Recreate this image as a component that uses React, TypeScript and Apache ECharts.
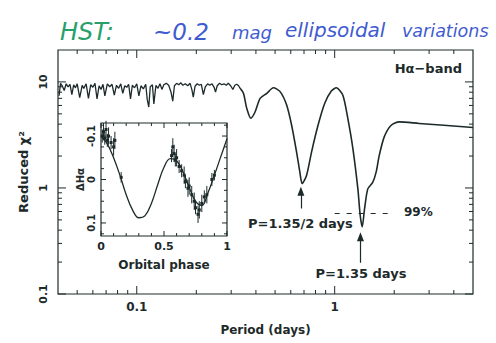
import React, { useEffect, useRef } from 'react';
import * as echarts from 'echarts';

const INK = '#1d2a2a';
const FONT = '"DejaVu Sans", sans-serif';

// ---- Main periodogram: period (days) vs reduced chi^2 ----
const noisyPeriods = [
  0.0405, 0.0412, 0.042, 0.043, 0.044, 0.045, 0.046, 0.047, 0.048, 0.049,
  0.05, 0.0515, 0.053, 0.054, 0.0555, 0.057, 0.0585, 0.06, 0.0615, 0.063,
  0.0645, 0.066, 0.0675, 0.069, 0.071, 0.073, 0.075, 0.077, 0.079, 0.081,
  0.083, 0.085, 0.087, 0.089, 0.091, 0.093, 0.095, 0.0975, 0.1, 0.1025,
  0.105, 0.108, 0.111, 0.113, 0.115, 0.117, 0.12, 0.122, 0.125, 0.128,
  0.131, 0.134, 0.137, 0.141, 0.145, 0.149, 0.152, 0.155, 0.159, 0.163,
  0.167, 0.171, 0.176, 0.181, 0.186, 0.19, 0.193, 0.197, 0.202, 0.207,
  0.212, 0.217, 0.222, 0.228, 0.234, 0.24, 0.246, 0.25, 0.255, 0.262,
  0.269, 0.276, 0.283, 0.29, 0.298, 0.306, 0.313, 0.32, 0.327, 0.333,
];
const noisyChi2 = [
  7.4, 9.7, 9.2, 8.3, 9.6, 9.0, 9.5, 7.6, 9.4, 8.8,
  9.6, 7.1, 9.3, 8.7, 9.6, 7.0, 9.4, 8.9, 9.7, 6.9,
  9.2, 8.5, 9.5, 7.4, 9.6, 9.0, 9.5, 7.5, 9.3, 8.7,
  9.6, 7.8, 9.2, 8.9, 9.5, 6.9, 9.3, 8.8, 9.6, 7.4,
  9.2, 8.6, 9.5, 6.8, 5.8, 9.0, 9.4, 6.2, 9.3, 8.7,
  9.6, 8.5, 9.4, 9.7, 9.3, 8.0, 6.6, 9.2, 9.7, 9.4,
  9.8, 9.3, 9.6, 9.2, 9.7, 8.4, 7.2, 9.1, 9.6, 9.3,
  9.5, 7.6, 9.0, 9.6, 9.3, 9.6, 8.9, 8.0, 9.2, 9.7,
  9.4, 9.6, 9.3, 9.7, 9.2, 8.5, 9.3, 9.5, 9.2, 8.7,
];
const smoothPeriods = [
  0.333, 0.346, 0.36, 0.377, 0.396, 0.42, 0.454, 0.49, 0.53, 0.572,
  0.606, 0.642, 0.667, 0.685, 0.721, 0.764, 0.824, 0.891, 0.962, 1.02,
  1.1, 1.166, 1.236, 1.31, 1.346, 1.378, 1.415, 1.47, 1.557, 1.62,
  1.68, 1.78, 1.93, 2.12, 2.67, 5.0,
];
const smoothChi2 = [
  8.7, 7.8, 5.6, 4.55, 5.2, 7.0, 7.8, 8.8, 8.1, 6.05,
  3.9, 2.18, 1.41, 1.1, 1.31, 2.18, 3.9, 6.3, 8.2, 8.8,
  7.5, 4.5, 2.35, 0.98, 0.55, 0.43, 0.63, 0.98, 1.13, 1.41,
  2.03, 3.03, 3.9, 4.2, 4.06, 3.72,
];

// annotations (data coordinates)
const level99 = 0.58;
const level99Span = [1.0, 2.0];
const halfPeriod = 1.35 / 2;
const fullPeriod = 1.35;
const arrowHalf = [0.64, 0.93];
const arrowFull = [0.197, 0.347];

// axis ticks
const xRange = [0.04, 5];
const yRange = [0.1, 20];
const xMajor = [0.1, 1];
const xMinor = [0.05, 0.06, 0.07, 0.08, 0.09, 0.2, 0.3, 0.4, 0.5, 0.6, 0.7, 0.8, 0.9, 2, 3, 4];
const yMajor = [0.1, 1, 10];
const yMinor = [0.2, 0.3, 0.4, 0.5, 0.6, 0.7, 0.8, 0.9, 2, 3, 4, 5, 6, 7, 8, 9];

// ---- Inset: light curve vs orbital phase ----
const curvePhase = [0, 0.05, 0.1, 0.15, 0.2, 0.25, 0.3, 0.35, 0.4, 0.45, 0.5, 0.55, 0.6, 0.65, 0.7, 0.75, 0.8, 0.85, 0.9, 0.95, 1.0];
const curveDelta = [-0.1, -0.082, -0.05, -0.01, 0.035, 0.07, 0.088, 0.083, 0.055, 0.012, -0.028, -0.048, -0.043, -0.018, 0.018, 0.05, 0.06, 0.03, -0.01, -0.052, -0.094];
const obsPhase = [0.01, 0.02, 0.03, 0.04, 0.05, 0.06, 0.08, 0.1, 0.11, 0.16, 0.56, 0.57, 0.58, 0.59, 0.6, 0.62, 0.64, 0.66, 0.67, 0.69, 0.7, 0.72, 0.74, 0.75, 0.77, 0.78, 0.8, 0.82, 0.84, 0.88, 0.9];
const obsDelta = [-0.1, -0.11, -0.095, -0.115, -0.09, -0.1, -0.085, -0.075, -0.09, -0.005, -0.055, -0.075, -0.06, -0.045, -0.05, -0.03, -0.02, -0.01, 0.005, 0.02, 0.015, 0.035, 0.05, 0.065, 0.08, 0.07, 0.055, 0.04, 0.035, 0.0, -0.01];
const obsErr = [0.015, 0.02, 0.015, 0.02, 0.015, 0.02, 0.015, 0.02, 0.02, 0.012, 0.015, 0.02, 0.02, 0.015, 0.02, 0.015, 0.015, 0.02, 0.015, 0.02, 0.02, 0.02, 0.02, 0.015, 0.02, 0.02, 0.02, 0.015, 0.02, 0.015, 0.012];
const insetXRange = [0, 1];
const insetYRange = [-0.13, 0.13];
const insetXMajor = [0, 0.5, 1];
const insetXMinor = [0.1, 0.2, 0.3, 0.4, 0.6, 0.7, 0.8, 0.9];
const insetYMajor = [-0.1, 0, 0.1];
const insetYMinor = [-0.125, -0.075, -0.05, -0.025, 0.025, 0.05, 0.075, 0.125];

const handWords = ['~0.2', 'mag', 'ellipsoidal', 'variations'];

function tickSeries(xIdx: number, yIdx: number, xr: number[], yr: number[], xMaj: number[], xMin: number[], yMaj: number[], yMin: number[], maj: number, min: number) {
  const data: number[][] = [];
  xMaj.forEach((v) => data.push([v, yr[0], 0, maj]));
  xMin.forEach((v) => data.push([v, yr[0], 0, min]));
  yMaj.forEach((v) => data.push([xr[0], v, 1, maj]));
  yMin.forEach((v) => data.push([xr[0], v, 1, min]));
  const style = { stroke: INK, lineWidth: 1 };
  return {
    type: 'custom',
    xAxisIndex: xIdx,
    yAxisIndex: yIdx,
    clip: false,
    silent: true,
    z: 6,
    data,
    renderItem: (_p: any, api: any) => {
      const kind = api.value(2);
      const len = api.value(3);
      if (kind === 0) {
        const v = api.value(0);
        const a = api.coord([v, yr[0]]);
        const b = api.coord([v, yr[1]]);
        const yb = Math.max(a[1], b[1]);
        const yt = Math.min(a[1], b[1]);
        return {
          type: 'group',
          children: [
            { type: 'line', shape: { x1: a[0], y1: yb, x2: a[0], y2: yb - len }, style },
            { type: 'line', shape: { x1: a[0], y1: yt, x2: a[0], y2: yt + len }, style },
          ],
        };
      }
      const v = api.value(1);
      const a = api.coord([xr[0], v]);
      const b = api.coord([xr[1], v]);
      const xl = Math.min(a[0], b[0]);
      const xrr = Math.max(a[0], b[0]);
      return {
        type: 'group',
        children: [
          { type: 'line', shape: { x1: xl, y1: a[1], x2: xl + len, y2: a[1] }, style },
          { type: 'line', shape: { x1: xrr, y1: a[1], x2: xrr - len, y2: a[1] }, style },
        ],
      };
    },
  };
}

const logLabel = (v: number) => {
  const e = Math.log10(v);
  const r = Math.round(e);
  if (Math.abs(e - r) > 1e-6) return '';
  return r >= 0 ? String(Math.pow(10, r)) : Math.pow(10, r).toFixed(-r);
};

const labelStyle = { color: INK, fontFamily: FONT, fontWeight: 'bold' as const };
const handStyle = { fill: '#3f5bd0', fontFamily: FONT, fontStyle: 'italic', fontWeight: 'normal', verticalAlign: 'middle' };

export default function App() {
  const ref = useRef<HTMLDivElement>(null);
  useEffect(() => {
    if (!ref.current) return;
    const chart = echarts.init(ref.current, undefined, { renderer: 'svg' });
    const option: any = {
      animation: false,
      backgroundColor: '#ffffff',
      grid: [
        { left: 58, right: 23, top: 50, bottom: 49, show: true, borderColor: INK, borderWidth: 1.2, backgroundColor: 'transparent', outerBoundsMode: 'none' },
        { left: 101, top: 123, width: 126, height: 113, show: true, borderColor: INK, borderWidth: 1.2, backgroundColor: '#ffffff', outerBoundsMode: 'none', z: 4 },
      ],
      xAxis: [
        {
          type: 'log', logBase: 10, gridIndex: 0, min: xRange[0], max: xRange[1],
          axisLine: { show: false }, axisTick: { show: false }, splitLine: { show: false },
          axisLabel: { ...labelStyle, fontSize: 12, margin: 7, formatter: logLabel, showMinLabel: true, showMaxLabel: true },
          name: 'Period (days)', nameLocation: 'middle', nameGap: 30,
          nameTextStyle: { ...labelStyle, fontSize: 12 },
        },
        {
          type: 'value', gridIndex: 1, min: insetXRange[0], max: insetXRange[1], interval: 0.5,
          axisLine: { show: false }, axisTick: { show: false }, splitLine: { show: false },
          axisLabel: { ...labelStyle, fontSize: 11, margin: 5, formatter: (v: number) => (v === 0 ? '0' : v === 1 ? '1' : String(v)) },
          name: 'Orbital phase', nameLocation: 'middle', nameGap: 23,
          nameTextStyle: { ...labelStyle, fontSize: 12 },
        },
      ],
      yAxis: [
        {
          type: 'log', logBase: 10, gridIndex: 0, min: yRange[0], max: yRange[1],
          axisLine: { show: false }, axisTick: { show: false }, splitLine: { show: false },
          axisLabel: { ...labelStyle, fontSize: 11, rotate: 90, margin: 9, formatter: logLabel },
          name: 'Reduced χ²', nameLocation: 'middle', nameGap: 25, nameRotate: 90,
          nameTextStyle: { ...labelStyle, fontSize: 13 },
        },
        {
          type: 'value', gridIndex: 1, min: insetYRange[0], max: insetYRange[1], inverse: true,
          axisLine: { show: false }, axisTick: { show: false }, splitLine: { show: false },
          axisLabel: {
            ...labelStyle, fontSize: 10, rotate: 90, margin: 5,
            customValues: insetYMajor,
            formatter: (v: number) => (Math.abs(v) < 1e-9 ? '0' : (v < 0 ? '-' : '') + Math.abs(v).toFixed(1)),
          },
          name: 'ΔHα', nameLocation: 'middle', nameGap: 16, nameRotate: 90,
          nameTextStyle: { ...labelStyle, fontSize: 10 },
        },
      ],
      series: [
        {
          type: 'line', xAxisIndex: 0, yAxisIndex: 0, showSymbol: false, silent: true,
          data: noisyPeriods.map((p, i) => [p, noisyChi2[i]]),
          lineStyle: { color: INK, width: 1.3 },
        },
        {
          type: 'line', xAxisIndex: 0, yAxisIndex: 0, showSymbol: false, silent: true, smooth: 0.25,
          data: smoothPeriods.map((p, i) => [p, smoothChi2[i]]),
          lineStyle: { color: INK, width: 1.6 },
          markLine: {
            silent: true, animation: false, symbol: ['none', 'none'], label: { show: false },
            lineStyle: { color: INK, width: 1.2, type: 'solid' },
            data: [
              [
                { coord: [level99Span[0], level99], lineStyle: { type: [5, 7], color: INK, width: 1.2 } },
                { coord: [level99Span[1], level99] },
              ],
              [
                { coord: [halfPeriod, arrowHalf[0]], symbol: 'none' },
                { coord: [halfPeriod, arrowHalf[1]], symbol: 'triangle', symbolSize: [7, 9] },
              ],
              [
                { coord: [fullPeriod, arrowFull[0]], symbol: 'none' },
                { coord: [fullPeriod, arrowFull[1]], symbol: 'triangle', symbolSize: [7, 9] },
              ],
            ],
          },
        },
        tickSeries(0, 0, xRange, yRange, xMajor, xMinor, yMajor, yMinor, 8, 4),
        {
          type: 'line', xAxisIndex: 1, yAxisIndex: 1, showSymbol: false, silent: true, smooth: 0.4, z: 5,
          data: curvePhase.map((p, i) => [p, curveDelta[i]]),
          lineStyle: { color: INK, width: 1.3 },
        },
        {
          type: 'custom', xAxisIndex: 1, yAxisIndex: 1, silent: true, z: 6,
          data: obsPhase.map((p, i) => [p, obsDelta[i], obsErr[i]]),
          renderItem: (_p: any, api: any) => {
            const ph = api.value(0);
            const d = api.value(1);
            const e = api.value(2);
            const lo = api.coord([ph, d - e]);
            const hi = api.coord([ph, d + e]);
            const c = api.coord([ph, d]);
            return {
              type: 'group',
              children: [
                { type: 'line', shape: { x1: lo[0], y1: lo[1], x2: hi[0], y2: hi[1] }, style: { stroke: INK, lineWidth: 1 } },
                { type: 'rect', shape: { x: c[0] - 1.5, y: c[1] - 1.5, width: 3, height: 3 }, style: { fill: INK } },
              ],
            };
          },
        },
        tickSeries(1, 1, insetXRange, insetYRange, insetXMajor, insetXMinor, insetYMajor, insetYMinor, 5, 3),
      ],
      graphic: [
        { type: 'text', x: 60, y: 32, style: { ...handStyle, text: 'HST:', fill: '#27a06a', fontSize: 24 } },
        { type: 'text', x: 153, y: 32, style: { ...handStyle, text: handWords[0], fontSize: 23 } },
        { type: 'text', x: 232, y: 32, style: { ...handStyle, text: handWords[1], fontSize: 18 } },
        { type: 'text', x: 285, y: 30, style: { ...handStyle, text: handWords[2], fontSize: 20 } },
        { type: 'text', x: 402, y: 31, style: { ...handStyle, text: handWords[3], fontSize: 17.5 } },
        { type: 'text', x: 462, y: 68, style: { text: 'Hα−band', fill: INK, fontSize: 13, fontFamily: FONT, fontWeight: 'bold', align: 'right', verticalAlign: 'middle' } },
        { type: 'text', x: 248, y: 223, style: { text: 'P=1.35/2 days', fill: INK, fontSize: 13, fontFamily: FONT, fontWeight: 'bold', align: 'left', verticalAlign: 'middle' } },
        { type: 'text', x: 404, y: 212, style: { text: '99%', fill: INK, fontSize: 12, fontFamily: FONT, fontWeight: 'bold', align: 'left', verticalAlign: 'middle' } },
        { type: 'text', x: 361, y: 273, style: { text: 'P=1.35 days', fill: INK, fontSize: 13, fontFamily: FONT, fontWeight: 'bold', align: 'center', verticalAlign: 'middle' } },
      ],
    };
    chart.setOption(option);
    return () => chart.dispose();
  }, []);
  return <div ref={ref} style={{ position: 'fixed', left: 0, top: 0, width: 496, height: 343 }} />;
}
